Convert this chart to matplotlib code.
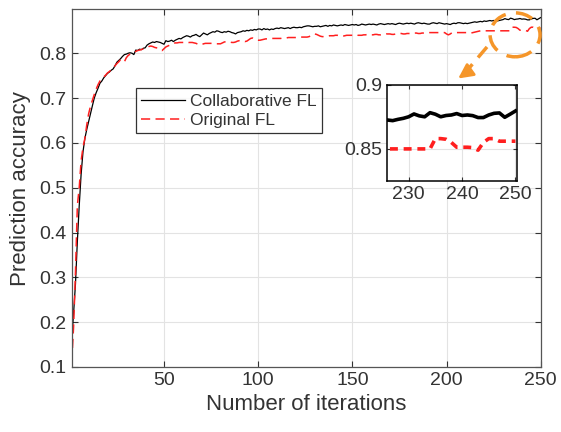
import matplotlib
matplotlib.use("Agg")
import matplotlib.pyplot as plt
from matplotlib.patches import Ellipse

plt.rcParams['font.family'] = ['Liberation Sans', 'DejaVu Sans']

# accuracy per iteration (1..250)
collab_fl = [
    0.160, 0.220, 0.285, 0.380, 0.460, 0.530, 0.580, 0.610, 0.630, 0.648,
    0.665, 0.683, 0.700, 0.712, 0.722, 0.733, 0.738, 0.745, 0.750, 0.755,
    0.758, 0.762, 0.765, 0.772, 0.780, 0.784, 0.788, 0.793, 0.797, 0.798,
    0.800, 0.801, 0.800, 0.797, 0.807, 0.806, 0.809, 0.808, 0.811, 0.812,
    0.818, 0.821, 0.823, 0.825, 0.824, 0.826, 0.825, 0.824, 0.822, 0.820,
    0.828, 0.826, 0.827, 0.829, 0.826, 0.829, 0.831, 0.833, 0.832, 0.835,
    0.837, 0.839, 0.838, 0.836, 0.839, 0.840, 0.842, 0.839, 0.837, 0.841,
    0.845, 0.843, 0.841, 0.844, 0.846, 0.848, 0.847, 0.850, 0.849, 0.847,
    0.846, 0.848, 0.847, 0.849, 0.848, 0.846, 0.845, 0.843, 0.846, 0.847,
    0.848, 0.850, 0.849, 0.851, 0.850, 0.852, 0.851, 0.853, 0.852, 0.854,
    0.854, 0.852, 0.855, 0.853, 0.854, 0.852, 0.854, 0.853, 0.855, 0.856,
    0.855, 0.857, 0.856, 0.855, 0.856, 0.857, 0.855, 0.857, 0.858, 0.857,
    0.857, 0.858, 0.857, 0.859, 0.860, 0.861, 0.861, 0.860, 0.859, 0.860,
    0.860, 0.861, 0.859, 0.860, 0.861, 0.862, 0.860, 0.862, 0.861, 0.863,
    0.862, 0.861, 0.862, 0.863, 0.862, 0.864, 0.863, 0.862, 0.863, 0.864,
    0.863, 0.864, 0.862, 0.863, 0.865, 0.864, 0.863, 0.864, 0.865, 0.864,
    0.865, 0.864, 0.863, 0.865, 0.866, 0.865, 0.864, 0.865, 0.866, 0.865,
    0.866, 0.865, 0.864, 0.866, 0.867, 0.866, 0.865, 0.866, 0.867, 0.866,
    0.867, 0.866, 0.865, 0.867, 0.868, 0.867, 0.866, 0.867, 0.866, 0.865,
    0.865, 0.867, 0.868, 0.867, 0.866, 0.868, 0.867, 0.866, 0.865, 0.866,
    0.865, 0.864, 0.866, 0.867, 0.866, 0.868, 0.868, 0.867, 0.866, 0.867,
    0.866, 0.867, 0.868, 0.869, 0.870, 0.869, 0.870, 0.871, 0.870, 0.872,
    0.871, 0.872, 0.873, 0.872, 0.873, 0.8725, 0.872, 0.873, 0.8738, 0.875,
    0.8772, 0.8757, 0.875, 0.8782, 0.877, 0.875, 0.876, 0.8764, 0.8775, 0.876,
    0.8764, 0.8759, 0.8744, 0.8744, 0.8764, 0.8777, 0.878, 0.8746, 0.877, 0.8795,
]

original_fl = [
    0.110, 0.190, 0.310, 0.460, 0.500, 0.560, 0.590, 0.610, 0.640, 0.665,
    0.682, 0.695, 0.708, 0.720, 0.730, 0.738, 0.743, 0.747, 0.751, 0.756,
    0.759, 0.763, 0.768, 0.772, 0.777, 0.781, 0.786, 0.784, 0.781, 0.790,
    0.795, 0.798, 0.800, 0.802, 0.804, 0.806, 0.807, 0.808, 0.810, 0.812,
    0.813, 0.815, 0.816, 0.815, 0.813, 0.812, 0.811, 0.808, 0.806, 0.810,
    0.814, 0.816, 0.818, 0.820, 0.822, 0.823, 0.823, 0.824, 0.824, 0.824,
    0.824, 0.825, 0.824, 0.824, 0.824, 0.823, 0.822, 0.820, 0.819, 0.819,
    0.821, 0.822, 0.822, 0.822, 0.822, 0.822, 0.822, 0.821, 0.821, 0.821,
    0.823, 0.825, 0.826, 0.826, 0.825, 0.824, 0.824, 0.825, 0.827, 0.828,
    0.828, 0.827, 0.826, 0.827, 0.830, 0.833, 0.834, 0.832, 0.830, 0.829,
    0.829, 0.830, 0.831, 0.832, 0.832, 0.832, 0.833, 0.833, 0.833, 0.833,
    0.833, 0.833, 0.834, 0.834, 0.834, 0.835, 0.835, 0.835, 0.835, 0.835,
    0.835, 0.836, 0.836, 0.836, 0.836, 0.836, 0.837, 0.839, 0.842, 0.843,
    0.842, 0.840, 0.838, 0.837, 0.837, 0.838, 0.838, 0.839, 0.839, 0.839,
    0.840, 0.840, 0.839, 0.838, 0.838, 0.839, 0.840, 0.840, 0.840, 0.840,
    0.841, 0.841, 0.840, 0.840, 0.840, 0.841, 0.841, 0.842, 0.841, 0.841,
    0.841, 0.842, 0.842, 0.841, 0.841, 0.842, 0.842, 0.843, 0.843, 0.843,
    0.842, 0.842, 0.843, 0.843, 0.844, 0.844, 0.843, 0.843, 0.844, 0.844,
    0.844, 0.845, 0.845, 0.845, 0.844, 0.844, 0.845, 0.845, 0.846, 0.846,
    0.846, 0.846, 0.846, 0.846, 0.846, 0.846, 0.846, 0.846, 0.846, 0.843,
    0.841, 0.843, 0.846, 0.846, 0.846, 0.846, 0.846, 0.846, 0.846, 0.846,
    0.846, 0.846, 0.845, 0.846, 0.847, 0.848, 0.849, 0.850, 0.850, 0.850,
    0.850, 0.850, 0.850, 0.850, 0.850, 0.850, 0.850, 0.850, 0.850, 0.850,
    0.850, 0.850, 0.850, 0.850, 0.858, 0.858, 0.8575, 0.855, 0.8513, 0.8513,
    0.8513, 0.851, 0.849, 0.855, 0.858, 0.858, 0.856, 0.856, 0.856, 0.856,
]

iterations = list(range(1, len(collab_fl) + 1))

TXT = '#333333'
GRID = '#e3e3e3'
ORANGE = '#f5962a'

fig = plt.figure(figsize=(5.61, 4.32), dpi=100)
ax = fig.add_axes([0.1278, 0.1505, 0.836, 0.828])

ax.plot(iterations, collab_fl, color='black', lw=0.9, label='Collaborative FL')
ax.plot(iterations, original_fl, color='#ff1f1f', lw=1.1, ls=(0, (6, 3.5)), label='Original FL')

ax.set_xlim(1, 250)
ax.set_ylim(0.1, 0.898)
ax.set_xticks([50, 100, 150, 200, 250])
ax.set_yticks([0.1, 0.2, 0.3, 0.4, 0.5, 0.6, 0.7, 0.8])
ax.set_yticklabels(['0.1', '0.2', '0.3', '0.4', '0.5', '0.6', '0.7', '0.8'])
ax.grid(True, color=GRID, lw=0.8)
ax.set_axisbelow(True)
ax.tick_params(direction='in', length=4, width=0.8, colors=TXT, labelsize=14,
               top=True, right=True)
for s in ax.spines.values():
    s.set_color('#555555')
    s.set_linewidth(0.9)
ax.set_xlabel('Number of iterations', fontsize=16, color=TXT, labelpad=4)
ax.set_ylabel('Prediction accuracy', fontsize=16, color=TXT, labelpad=6)

leg = ax.legend(loc='upper left', bbox_to_anchor=(0.137, 0.779), fontsize=12.5,
                frameon=True, fancybox=False, handlelength=2.5, handletextpad=0.3,
                borderpad=0.3, labelspacing=0.25, borderaxespad=0)
leg.get_frame().set_edgecolor('black')
leg.get_frame().set_linewidth(0.9)
for t in leg.get_texts():
    t.set_color(TXT)

# orange highlight + arrow
ax.add_patch(Ellipse((236.4, 0.841), 26.5, 0.098, fill=False, ec=ORANGE,
                     lw=2.5, ls=(0, (5, 3)), clip_on=False, zorder=5))
ax.plot([221.5, 209], [0.814, 0.752], color=ORANGE, lw=2.5, ls=(0, (4, 2.5)), zorder=5)
ax.annotate('', xy=(205, 0.740), xytext=(211, 0.758),
            arrowprops=dict(arrowstyle='-|>', color=ORANGE, lw=2.0,
                            mutation_scale=22), zorder=5)

# inset
axin = fig.add_axes([0.6904, 0.581, 0.2312, 0.223])
axin.plot(iterations, collab_fl, color='black', lw=2.6)
axin.plot(iterations, original_fl, color='#ff1f1f', lw=2.6, ls=(0, (2.2, 1.6)))
axin.set_xlim(226, 250.3)
axin.set_ylim(0.825, 0.9)
axin.set_xticks([230, 240, 250])
axin.set_yticks([0.85, 0.9])
axin.set_yticklabels(['0.85', '0.9'])
axin.grid(True, color=GRID, lw=0.8)
axin.set_axisbelow(True)
axin.tick_params(direction='in', length=3, width=0.8, colors=TXT, labelsize=14,
                 top=True, right=True)
for s in axin.spines.values():
    s.set_color('black')
    s.set_linewidth(1.1)

fig.savefig('out.png', dpi=100)
